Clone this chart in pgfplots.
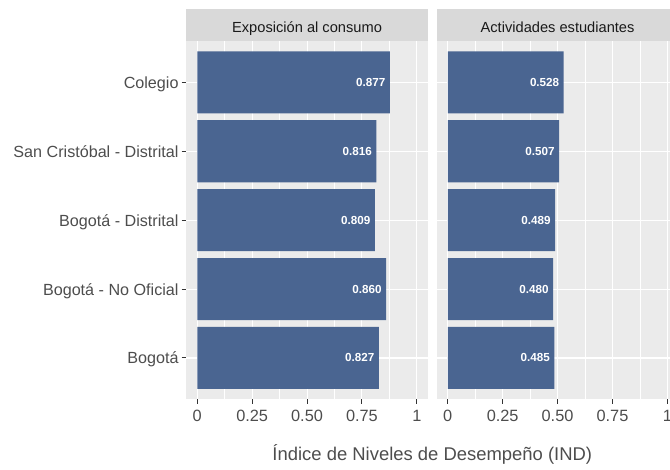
\documentclass[border=0pt]{standalone}
\usepackage{pgfplots}
\pgfplotsset{compat=1.18}
\usepackage{pgfplotstable}
\usepackage{fontspec}
\setmainfont{Liberation Sans}
\definecolor{barblue}{RGB}{74,101,145}
\definecolor{panelbg}{RGB}{235,235,235}
\definecolor{stripbg}{RGB}{217,217,217}
\definecolor{txtgray}{RGB}{77,77,77}
\definecolor{tickgray}{RGB}{51,51,51}
\definecolor{striptxt}{RGB}{26,26,26}

\pgfplotstableread{
pos expo activ
5 0.877 0.528
4 0.816 0.507
3 0.809 0.489
2 0.860 0.480
1 0.827 0.485
}\datatab

\pgfplotsset{
  facet/.style={
    scale only axis, width=241.5bp, height=358.3bp,
    anchor=south west,
    xmin=-0.05, xmax=1.05, ymin=0.4, ymax=5.6,
    axis background/.style={fill=panelbg},
    axis line style={draw=none},
    xmajorgrids, ymajorgrids, xminorgrids,
    major grid style={white, line width=1.1bp},
    minor grid style={white, line width=0.55bp},
    xtick={0,0.25,0.5,0.75,1},
    xticklabels={0,0.25,0.50,0.75,1},
    minor xtick={0.125,0.375,0.625,0.875},
    ytick={1,2,3,4,5},
    tick align=outside, major tick length=4.6bp, minor tick length=0pt,
    tick style={tickgray, line width=1bp},
    xtick pos=left, ytick pos=left,
    xticklabel style={font=\fontsize{16.4}{18}\selectfont, text=txtgray, inner sep=0pt, anchor=north, yshift=-6bp},
    xbar, bar width=0.9,
    clip=false,
  },
  barstyle/.style={
    fill=barblue, draw=none,
    point meta=x,
    nodes near coords={\pgfmathprintnumber[fixed, fixed zerofill, precision=3, assume math mode=true]{\pgfplotspointmeta}},
    every node near coord/.append style={anchor=east, text=white, xshift=-1bp,
      font=\bfseries\fontsize{11.7}{13}\selectfont},
  },
}

\begin{document}
\begin{tikzpicture}
\useasboundingbox (0,0) rectangle (670bp,470bp);
\clip (0,0) rectangle (670bp,470bp);

\begin{axis}[facet, at={(186.3bp,70.7bp)},
  yticklabels={Bogotá, Bogotá - No Oficial, Bogotá - Distrital, San Cristóbal - Distrital, Colegio},
  yticklabel style={font=\fontsize{16.2}{18}\selectfont, text=txtgray, inner sep=0pt, anchor=base east, yshift=-6bp, xshift=-3bp},
]
\fill[stripbg] (rel axis cs:0,1) rectangle ([yshift=31.5bp]rel axis cs:1,1);
\node[anchor=base, font=\fontsize{14.7}{16}\selectfont, text=striptxt] at ([yshift=8.3bp]rel axis cs:0.5,1) {Exposición al consumo};
\addplot[barstyle] table[x=expo, y=pos] {\datatab};
\end{axis}

\begin{axis}[facet, at={(436.8bp,70.7bp)},
  yticklabels={}, ytick style={draw=none},
]
\fill[stripbg] (rel axis cs:0,1) rectangle ([yshift=31.5bp]rel axis cs:1,1);
\node[anchor=base, font=\fontsize{14.7}{16}\selectfont, text=striptxt] at ([yshift=8.3bp]rel axis cs:0.5,1) {Actividades estudiantes};
\addplot[barstyle] table[x=activ, y=pos] {\datatab};
\end{axis}

\node[anchor=base, font=\fontsize{18.5}{20}\selectfont, text=txtgray] at (432.3bp,10bp) {Índice de Niveles de Desempeño (IND)};
\end{tikzpicture}
\end{document}
